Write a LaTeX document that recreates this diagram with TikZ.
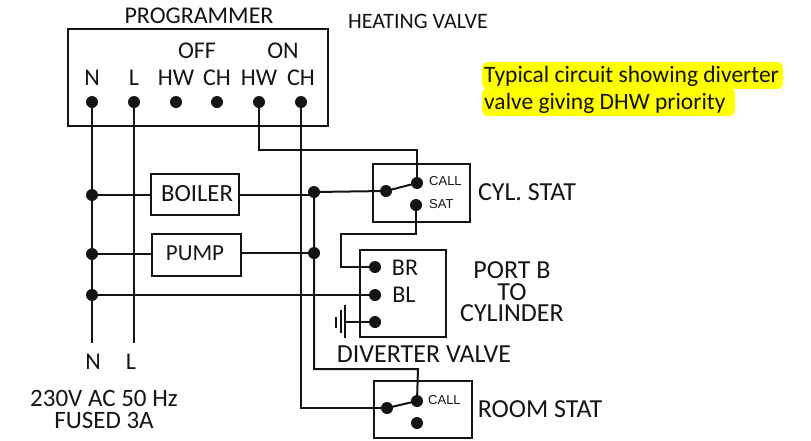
\documentclass[tikz,border=0pt]{standalone}
\usepackage{fontspec}
\setmainfont{Carlito}
\newfontfamily\smallfam{Liberation Sans}
\definecolor{ink}{HTML}{141414}
\definecolor{hl}{HTML}{FFFF00}
\newcommand{\fsz}[1]{\fontsize{#1}{#1}\selectfont}
\tikzset{
  x=1pt,y=-1pt,
  wire/.style={draw=ink,line width=2pt,line cap=butt,line join=miter},
  box/.style={draw=ink,line width=2.2pt,fill=none},
  term/.style={circle,fill=ink,draw=none,minimum size=12pt,inner sep=0pt},
  lab/.style={text=ink,inner sep=0pt,font=\fsz{24}},
  biglab/.style={text=ink,inner sep=0pt,font=\fsz{26}},
  small/.style={text=ink,inner sep=0pt,font=\smallfam\fsz{13}},
}
\begin{document}
\begin{tikzpicture}
\useasboundingbox (0,0) rectangle (811,440);
% highlight
\fill[hl,rounded corners=6pt] (482,62) rectangle (783,89);
\fill[hl,rounded corners=6pt] (482,88) rectangle (735,116);
\node[text=ink,inner sep=0pt,font=\fsz{23.5},anchor=west] (note1) at (484,76) {Typical circuit showing diverter};
\node[text=ink,inner sep=0pt,font=\fsz{23.5},anchor=west] (note2) at (484,103) {valve giving DHW priority};
% boxes
\draw[box] (68,29) rectangle (328,126);
\draw[box] (373,164) rectangle (470,222);
\draw[box] (360,250) rectangle (446,337);
\draw[box] (374,381) rectangle (472,438);
% terminals
\node[term] (pn) at (92,102) {};
\node[term] (pl) at (134,102) {};
\node[term] (pa) at (176,102) {};
\node[term] (pb) at (217,102) {};
\node[term] (pc) at (259,102) {};
\node[term] (pd) at (301,102) {};
\node[term] (j1) at (92,195) {};
\node[term] (j2) at (92,254) {};
\node[term] (j3) at (92,295) {};
\node[term] (k1) at (314,192) {};
\node[term] (k2) at (314,253) {};
\node[term] (cc) at (417,183) {};
\node[term] (cm) at (386,191) {};
\node[term] (cs) at (416,205) {};
\node[term] (br) at (375,267) {};
\node[term] (bl) at (375,295) {};
\node[term] (be) at (375,322) {};
\node[term] (rc) at (417,401) {};
\node[term] (rm) at (387,408) {};
\node[term] (rb) at (417,423) {};
\coordinate (nend) at (92,343);
\coordinate (lend) at (134,343);
\coordinate (gnd) at (345,322);
\coordinate (k1b) at (314,195);
\node[draw=ink,line width=2.2pt,minimum width=88pt,minimum height=41pt,inner sep=0pt] (boiler) at (195,194.5) {};
\node[draw=ink,line width=2.2pt,minimum width=89pt,minimum height=42pt,inner sep=0pt] (pump) at (196.5,255) {};
% wires
\draw[wire] (pn.center) -- (nend);
\draw[wire] (pl.center) -- (lend);
\draw[wire] (pc.center) |- (417,150) -- (cc.center);
\draw[wire] (pd.center) |- (rm.center);
\draw[wire] (j1.center) -- (j1-|boiler.west);
\draw[wire] (j2.center) -- (j2-|pump.west);
\draw[wire] (boiler.east|-k1b) -- (k1b);
\draw[wire] (k1.center) -- (cm.center);
\draw[wire] (pump.east|-k2) -- (k2.center);
\draw[wire] (cm.center) -- (cc.center);
\draw[wire] (cs.center) |- (341,234) |- (br.center);
\draw[wire] (j3.center) -- (bl.center);
\draw[wire] (k1.center) |- (418,369) -- (rc.center);
\draw[wire] (rm.center) -- (rc.center);
\draw[wire] (gnd) -- (be.center);
\coordinate (g1a) at (345,305); \coordinate (g1b) at (345,338);
\coordinate (g2a) at (341,310); \coordinate (g2b) at (341,333);
\coordinate (g3a) at (336,317); \coordinate (g3b) at (336,328);
\draw[wire] (g1a) -- (g1b);
\draw[wire] (g2a) -- (g2b);
\draw[wire] (g3a) -- (g3b);
% labels
\node[lab] (tprog) at (199,16) {PROGRAMMER};
\node[text=ink,inner sep=0pt,font=\fsz{22}] (theat) at (418,21) {HEATING VALVE};
\node[lab] (toff) at (197,51) {OFF};
\node[lab] (ton) at (283,51) {ON};
\node[lab] (t1) at (92,78) {N};
\node[lab] (t2) at (134,78) {L};
\node[lab] (t3) at (176,78) {HW};
\node[lab] (t4) at (217,78) {CH};
\node[lab] (t5) at (259,78) {HW};
\node[lab] (t6) at (301,78) {CH};
\node[text=ink,inner sep=0pt,font=\fsz{24.7}] (tboil) at (197,194) {BOILER};
\node[text=ink,inner sep=0pt,font=\fsz{23}] (tpump) at (195,253) {PUMP};
\node[small,anchor=west] (tcall) at (429,181) {CALL};
\node[small,anchor=west] (tsat) at (429,204) {SAT};
\node[biglab] (tcyl) at (527,192) {CYL. STAT};
\node[lab] (tbr) at (405,268) {BR};
\node[lab] (tbl) at (404,295) {BL};
\node[text=ink,inner sep=0pt,font=\fontsize{26}{21.5}\selectfont,align=center] (tport) at (512,292) {PORT B\\TO\\CYLINDER};
\node[biglab] (tdiv) at (424,354) {DIVERTER VALVE};
\node[small,anchor=west] (tcall2) at (428,400) {CALL};
\node[biglab] (troom) at (540,409) {ROOM STAT};
\node[lab] (tn) at (93,362) {N};
\node[lab] (tl) at (131,362) {L};
\node[text=ink,inner sep=0pt,font=\fontsize{25}{22}\selectfont,align=center] (tv) at (104,409) {230V AC 50 Hz\\FUSED 3A};
\end{tikzpicture}
\end{document}
